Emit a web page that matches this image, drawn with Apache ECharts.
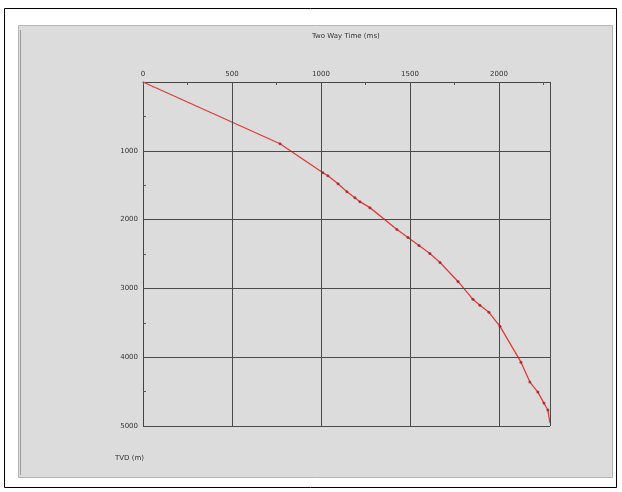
<!DOCTYPE html>
<html>
<head>
<meta charset="utf-8">
<script src="https://cdn.jsdelivr.net/npm/echarts@6/dist/echarts.min.js"></script>
<style>
  html, body { margin: 0; padding: 0; background: #ffffff; }
  #chart { width: 622px; height: 492px; }
</style>
</head>
<body>
<div id="chart"></div>
<script>
// Time–depth curve: two-way time (ms) vs TVD (m)
var twt = [0, 770, 1011, 1039, 1096, 1146, 1191, 1219, 1275, 1427, 1489, 1551, 1612,
           1669, 1770, 1854, 1893, 1944, 2006, 2124, 2174, 2219, 2253, 2275, 2287];
var tvd = [0, 898, 1319, 1362, 1478, 1594, 1681, 1739, 1826, 2145, 2261, 2377, 2493,
           2623, 2899, 3159, 3246, 3348, 3551, 4072, 4362, 4507, 4667, 4768, 4957];
var xTicks = [0, 500, 1000, 1500, 2000];
var yTicks = [1000, 2000, 3000, 4000, 5000];

var curve = twt.map(function (t, i) { return [t, tvd[i]]; });
// picks are marked with dots, first and last curve points are not
var picks = curve.slice(1, curve.length - 1);

var chart = echarts.init(document.getElementById('chart'));

var smallText = { fontFamily: 'DejaVu Sans', fontSize: 7, color: '#333' };

chart.setOption({
  animation: false,
  backgroundColor: '#ffffff',
  graphic: [
    { type: 'rect', shape: { x: 4.5, y: 8.5, width: 612, height: 479 },
      style: { fill: '#ffffff', stroke: '#000', lineWidth: 1 }, z: -10 },
    { type: 'rect', shape: { x: 18.5, y: 25.5, width: 594, height: 452 },
      style: { fill: '#dcdcdc', stroke: '#b4b4b4', lineWidth: 1 }, z: -9 },
    { type: 'line', shape: { x1: 20.5, y1: 30, x2: 20.5, y2: 475 },
      style: { stroke: '#9a9a9a', lineWidth: 1 }, z: -8 },
    { type: 'text', left: 312, top: 33,
      style: { text: 'Two Way Time (ms)', font: '7px DejaVu Sans', fill: '#333' } },
    { type: 'text', left: 115, top: 455,
      style: { text: 'TVD (m)', font: '7px DejaVu Sans', fill: '#333' } }
  ],
  grid: { left: 143, top: 82, width: 407, height: 344 },
  xAxis: {
    type: 'value',
    position: 'top',
    min: 0,
    max: 2287,
    interval: 250,
    axisLine: { show: true, lineStyle: { color: '#444', width: 1 } },
    axisTick: { show: true, inside: true, length: 3, lineStyle: { color: '#555' } },
    axisLabel: Object.assign({
      margin: 4,
      showMaxLabel: false,
      formatter: function (v) { return xTicks.indexOf(v) >= 0 ? String(v) : ''; }
    }, smallText),
    splitLine: { show: false }
  },
  yAxis: {
    type: 'value',
    inverse: true,
    min: 0,
    max: 5000,
    interval: 500,
    axisLine: { show: true, lineStyle: { color: '#444', width: 1 } },
    axisTick: { show: true, inside: true, length: 3, lineStyle: { color: '#555' } },
    axisLabel: Object.assign({
      margin: 5,
      formatter: function (v) { return yTicks.indexOf(v) >= 0 ? String(v) : ''; }
    }, smallText),
    splitLine: { show: false }
  },
  series: [
    {
      type: 'line',
      data: curve,
      symbol: 'none',
      lineStyle: { color: '#e23b3b', width: 1.3 },
      z: 3,
      markLine: {
        silent: true,
        symbol: 'none',
        label: { show: false },
        lineStyle: { color: '#4a4a4a', width: 1, type: 'solid' },
        data: xTicks.slice(1).map(function (v) { return { xAxis: v }; })
          .concat([{ xAxis: 2287 }])
          .concat(yTicks.map(function (v) { return { yAxis: v }; }))
      }
    },
    {
      type: 'scatter',
      data: picks,
      symbol: 'circle',
      symbolSize: 3,
      itemStyle: { color: '#8a2a3a' },
      z: 4
    }
  ]
});
</script>
</body>
</html>
